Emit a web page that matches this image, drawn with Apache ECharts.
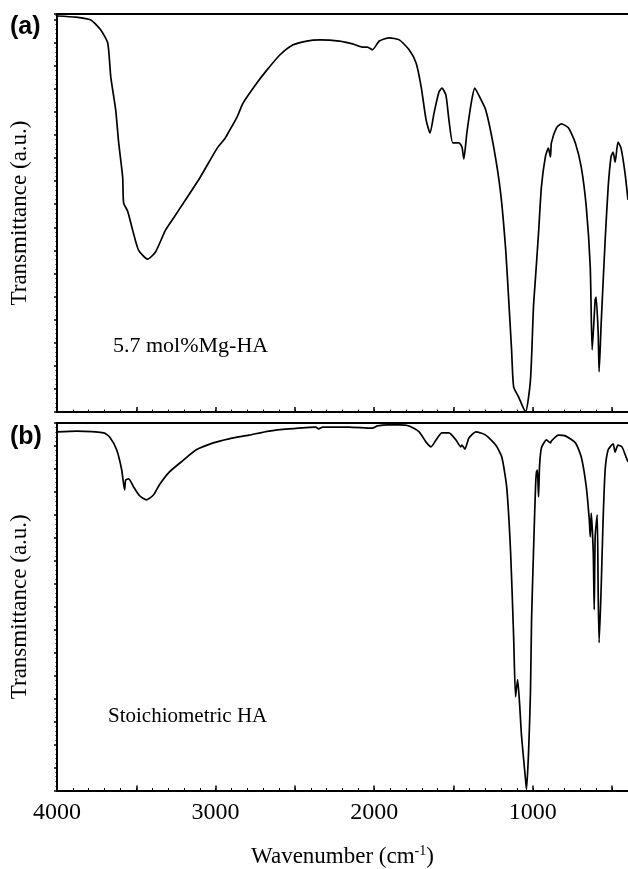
<!DOCTYPE html>
<html>
<head>
<meta charset="utf-8">
<script src="https://cdn.jsdelivr.net/npm/echarts@6/dist/echarts.min.js"></script>
<style>
  html, body { margin: 0; padding: 0; background: #fff; }
  #chart { width: 628px; height: 869px; }
</style>
</head>
<body>
<div id="chart"></div>
<script>
// (a) 5.7 mol% Mg-HA
const waveA = [4000, 3881, 3787, 3724, 3680, 3661, 3630, 3611, 3586, 3580, 3555, 3523, 3486, 3429, 3379,
  3316, 3266, 3203, 3097, 2990, 2940, 2921, 2865, 2827, 2739, 2677, 2595, 2514, 2426, 2344, 2219, 2137,
  2075, 2043, 2012, 1968, 1905, 1842, 1780, 1736, 1704, 1673, 1648, 1623, 1592, 1573, 1548, 1529, 1504,
  1466, 1447, 1435, 1416, 1385, 1366, 1341, 1297, 1247, 1203, 1171, 1152, 1134, 1121, 1090, 1046, 1015,
  996, 983, 964, 946, 921, 902, 889, 883, 851, 820, 776, 732, 695, 663, 638, 626, 607, 601, 588, 582,
  569, 544, 525, 507, 494, 481, 463, 444, 419, 400];
const transA = [99.5, 99.2, 98.5, 96.0, 92.7, 84.2, 75.9, 67.6, 59.0, 52.5, 50.5, 45.7, 40.7, 38.4, 40.2,
  45.7, 48.7, 52.5, 59.0, 66.3, 68.8, 70.1, 74.1, 77.6, 82.7, 85.9, 89.7, 92.2, 93.2, 93.5, 93.2, 92.5,
  91.7, 91.7, 91.0, 93.2, 94.0, 93.5, 91.0, 87.7, 81.7, 73.4, 70.1, 75.1, 80.4, 81.4, 79.6, 73.4, 67.6,
  67.6, 66.6, 63.6, 70.1, 78.4, 81.4, 79.6, 75.9, 66.6, 55.0, 40.7, 28.1, 15.6, 6.3, 3.8, 0.0, 8.0,
  26.4, 33.9, 45.0, 56.5, 64.1, 66.3, 64.1, 67.6, 71.4, 72.4, 71.4, 67.6, 61.6, 51.5, 36.4, 15.6, 28.1,
  28.9, 19.8, 10.1, 22.4, 43.2, 56.5, 64.1, 65.3, 62.8, 67.8, 66.3, 60.1, 53.3];

// (b) stoichiometric HA
const waveB = [4000, 3875, 3705, 3668, 3624, 3592, 3574, 3567, 3548, 3517, 3479, 3436, 3392, 3354, 3291,
  3203, 3122, 3015, 2915, 2790, 2664, 2539, 2369, 2350, 2325, 2162, 2012, 1980, 1911, 1842, 1780, 1717,
  1673, 1642, 1610, 1573, 1529, 1485, 1454, 1447, 1428, 1403, 1359, 1297, 1234, 1196, 1165, 1140, 1121,
  1109, 1096, 1084, 1071, 1046, 1040, 1027, 1015, 1008, 996, 983, 977, 971, 964, 958, 946, 914, 889,
  883, 839, 795, 732, 695, 663, 644, 638, 632, 619, 613, 607, 594, 588, 582, 569, 557, 544, 525, 494,
  481, 463, 438, 413, 400];
const transB = [97.6, 97.8, 97.3, 96.2, 92.7, 87.2, 81.8, 84.5, 84.8, 82.6, 80.2, 79.1, 80.4, 83.2, 86.7,
  89.9, 92.7, 94.6, 95.7, 96.7, 97.8, 98.4, 98.9, 98.4, 98.9, 98.9, 98.6, 99.2, 99.5, 99.5, 99.2, 97.6,
  94.8, 93.5, 95.4, 97.3, 97.3, 95.4, 93.5, 94.0, 92.9, 95.9, 97.6, 96.7, 94.0, 90.8, 82.6, 64.7, 41.8,
  25.5, 30.2, 23.9, 14.7, 3.0, 0.3, 10.3, 26.6, 46.5, 64.7, 82.6, 86.7, 87.2, 79.9, 88.0, 93.2, 95.4, 94.6,
  95.1, 96.7, 96.5, 94.6, 90.8, 82.6, 73.6, 69.0, 75.5, 64.7, 49.2, 69.0, 75.0, 53.8, 40.2, 55.4, 73.6,
  87.2, 92.7, 94.3, 92.1, 94.0, 93.5, 90.8, 89.4];

const majorTicks = [500, 1000, 1500, 2000, 2500, 3000, 3500, 4000];
const tickLabels = [1000, 2000, 3000, 4000];

const serif = '"Liberation Serif", "Times New Roman", serif';

const zip = (xs, ys) => xs.map((x, i) => [x, ys[i]]);

const grids = [
  { left: 56, right: -2, top: 14, height: 398 },
  { left: 56, right: -2, top: 423, height: 368 }
];

function bottomAxis(gi, showLabels) {
  return {
    type: 'value', gridIndex: gi, position: 'bottom', inverse: true,
    min: 400, max: 4000,
    axisLine: { show: true, lineStyle: { color: '#000', width: 2 } },
    axisTick: { show: true, inside: true, length: 5, customValues: majorTicks, lineStyle: { color: '#000', width: 1.5 } },
    axisLabel: {
      show: showLabels, customValues: tickLabels, margin: 10,
      formatter: v => String(v),
      color: '#000', fontFamily: serif, fontSize: 24
    },
    splitLine: { show: false },
    name: showLabels ? 'Wavenumber (cm{sup|-1})' : '',
    nameLocation: 'middle', nameGap: 54,
    nameTextStyle: {
      color: '#000', fontFamily: serif, fontSize: 23,
      rich: { sup: { fontFamily: serif, fontSize: 14, verticalAlign: 'top', padding: [0, 0, 10, 0], color: '#000' } }
    }
  };
}

// minor ticks every 100 cm-1
function minorAxis(gi) {
  return {
    type: 'value', gridIndex: gi, position: 'bottom', inverse: true,
    min: 400, max: 4000, interval: 100,
    axisLine: { show: false },
    axisTick: { show: true, inside: true, length: 2.5, lineStyle: { color: '#000', width: 1 } },
    axisLabel: { show: false },
    splitLine: { show: false }
  };
}

function topAxis(gi) {
  return {
    type: 'value', gridIndex: gi, position: 'top', inverse: true,
    min: 400, max: 4000,
    axisLine: { show: true, lineStyle: { color: '#000', width: 2 } },
    axisTick: { show: false }, axisLabel: { show: false }, splitLine: { show: false }
  };
}

function leftAxis(gi, step) {
  return {
    type: 'value', gridIndex: gi, min: 0, max: 100, interval: step,
    axisLine: { show: true, lineStyle: { color: '#000', width: 2 } },
    axisTick: { show: true, length: 3, lineStyle: { color: '#000', width: 1.5 } },
    minorTick: { show: true, splitNumber: 5, length: 1.5, lineStyle: { color: '#000', width: 1 } },
    axisLabel: { show: false },
    splitLine: { show: false },
    name: 'Transmittance (a.u.)',
    nameLocation: 'middle', nameGap: 26,
    nameTextStyle: { color: '#000', fontFamily: serif, fontSize: 23 }
  };
}

const lineStyle = { color: '#000', width: 1.7 };

const option = {
  backgroundColor: '#fff',
  animation: false,
  grid: grids,
  xAxis: [
    bottomAxis(0, false), minorAxis(0), topAxis(0),
    bottomAxis(1, true), minorAxis(1), topAxis(1)
  ],
  yAxis: [leftAxis(0, 5.8), leftAxis(1, 6.25)],
  series: [
    {
      type: 'line', xAxisIndex: 0, yAxisIndex: 0, data: zip(waveA, transA),
      showSymbol: false, smooth: 0.2, lineStyle: lineStyle
    },
    {
      type: 'line', xAxisIndex: 3, yAxisIndex: 1, data: zip(waveB, transB),
      showSymbol: false, smooth: 0.2, lineStyle: lineStyle
    }
  ],
  graphic: [
    { type: 'text', left: 10, top: 15, style: { text: '(a)', font: 'bold 25px "Liberation Sans", Arial, sans-serif', fill: '#000' } },
    { type: 'text', left: 10, top: 425, style: { text: '(b)', font: 'bold 25px "Liberation Sans", Arial, sans-serif', fill: '#000' } },
    { type: 'text', x: 113, y: 346, style: { text: '5.7 mol%Mg-HA', font: '22px ' + serif, fill: '#000', verticalAlign: 'middle' } },
    { type: 'text', x: 108, y: 716, style: { text: 'Stoichiometric HA', font: '21px ' + serif, fill: '#000', verticalAlign: 'middle' } }
  ]
};

const chart = echarts.init(document.getElementById('chart'), null, { renderer: 'canvas' });
chart.setOption(option);
</script>
</body>
</html>
